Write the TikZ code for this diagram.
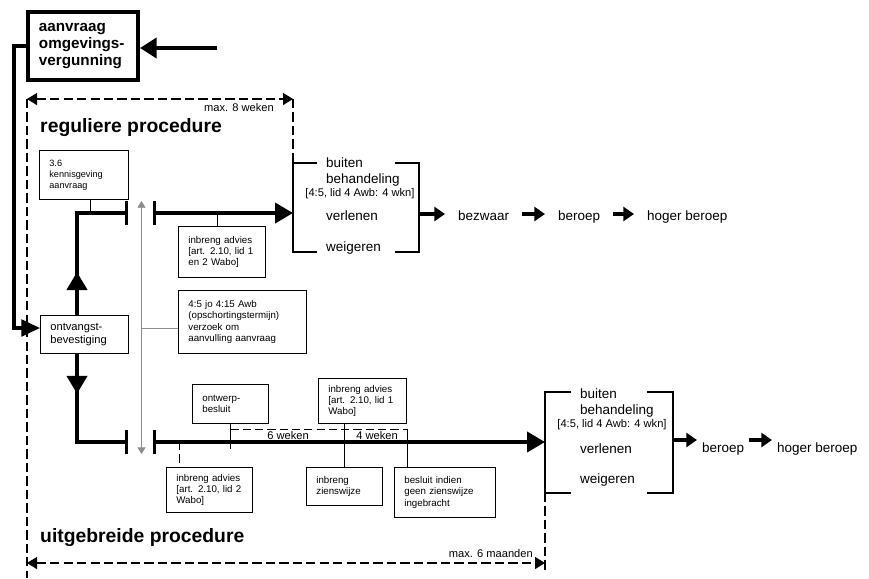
\documentclass[tikz,border=0pt]{standalone}
\usepackage{fontspec}
\setmainfont{Liberation Sans}
\usetikzlibrary{arrows.meta}
\begin{document}
\begin{tikzpicture}[x=0.03cm,y=-0.03cm]
	\tikzset{kader/.style = {draw,line width=0.7pt,anchor=north west,align=left,inner xsep=0.3cm,inner ysep=0pt,font=\fontsize{8.3}{9.6}\selectfont}}
	\tikzset{blok/.style = {anchor=north west,inner sep=0pt,outer sep=0pt}}
	\tikzset{haak/.style = {line width=1.7pt}}
	\tikzset{tekst/.style = {inner sep=0pt,align=left,font=\fontsize{11.5}{14.5}\selectfont}}
	\tikzset{stap/.style = {anchor=base west,inner xsep=0.39cm,inner ysep=0pt,font=\fontsize{11.5}{14.5}\selectfont}}
	\tikzset{klein/.style = {inner sep=0pt,font=\fontsize{9.5}{11}\selectfont}}
	\tikzset{titel/.style = {anchor=base west,inner sep=0pt,font=\fontsize{16.5}{19}\selectfont\bfseries}}
	\tikzset{hoofdlijn/.style = {line width=3.6pt}}
	\tikzset{kleinpijl/.style = {line width=2.6pt,-kleinekop}}
	\tikzset{grens/.style = {line width=1.2pt,dash pattern=on 8pt off 3.5pt}}
	\tikzset{streep/.style = {line width=0.8pt,dash pattern=on 7pt off 3.5pt}}
	\tikzset{dun/.style = {line width=0.7pt}}
	\tikzset{grijs/.style = {line width=0.7pt,black!45}}
	\tikzset{balk/.tip = {Bar[width=0.72cm,line width=2.6pt]}}
	\tikzset{grotekop/.tip = {Triangle[length=0.54cm,width=0.6cm]}}
	\tikzset{kleinekop/.tip = {Triangle[length=0.32cm,width=0.42cm]}}
	\tikzset{grenskop/.tip = {Triangle[length=0.3cm,width=0.36cm]}}
	\tikzset{grijskop/.tip = {Triangle[length=0.2cm,width=0.24cm]}}
	\useasboundingbox (0,0) rectangle (869,578);
	\node[kader,line width=3.4pt,inner xsep=0.33cm,font=\fontsize{13}{14.5}\selectfont\bfseries,text width=2.64cm,minimum height=2.04cm] (aanvraag) at (26,10) {aanvraag\\omgevings-\\vergunning};
	\node[kader,text width=2.07cm,minimum height=1.47cm,font=\fontsize{7.8}{9.3}\selectfont] (kennis) at (39,150) {3.6\\kennisgeving\\aanvraag};
	\node[kader,text width=2.04cm,minimum height=1.14cm,font=\fontsize{9.5}{11}\selectfont] (ontvangst) at (40,315) {ontvangst-\\bevestiging};
	\node[kader,text width=2.01cm,minimum height=1.53cm] (advies1) at (178,226) {inbreng advies\\{[art. 2.10, lid 1}\\en 2 Wabo]};
	\node[kader,text width=3.24cm,minimum height=1.89cm,font=\fontsize{8.3}{9.8}\selectfont] (opschorting) at (178,290) {4:5 jo 4:15 Awb\\(opschortingstermijn)\\verzoek om\\aanvulling aanvraag};
	\node[kader,text width=1.68cm,minimum height=1.17cm] (ontwerp) at (192,384) {ontwerp-\\besluit};
	\node[kader,text width=2.04cm,minimum height=1.35cm] (advies2) at (318,378) {inbreng advies\\{[art. 2.10, lid 1}\\Wabo]};
	\node[kader,text width=1.98cm,minimum height=1.35cm] (advies3) at (166,467) {inbreng advies\\{[art. 2.10, lid 2}\\Wabo]};
	\node[kader,text width=1.68cm,minimum height=1.14cm] (zienswijze) at (306,467) {inbreng\\zienswijze};
	\node[kader,text width=2.43cm,minimum height=1.5cm] (besluit) at (394,467) {besluit indien\\geen zienswijze\\ingebracht};
	\node[blok,minimum width=3.78cm,minimum height=2.67cm] (blokA) at (293,163) {};
	\node[blok,minimum width=3.84cm,minimum height=3.03cm] (blokB) at (545,392) {};
	\node[tekst,anchor=north west] (buitenA) at (326,157) {buiten\\behandeling};
	\node[klein,anchor=base] (termijnA) at (360,196) {[4:5, lid 4 Awb: 4 wkn]};
	\node[tekst,anchor=base west] (verlenenA) at (326,220) {verlenen};
	\node[tekst,anchor=base west] (weigerenA) at (326,251) {weigeren};
	\node[tekst,anchor=north west] (buitenB) at (580,388) {buiten\\behandeling};
	\node[klein,anchor=base] (termijnB) at (612,427) {[4:5, lid 4 Awb: 4 wkn]};
	\node[tekst,anchor=base west] (verlenenB) at (580,453) {verlenen};
	\node[tekst,anchor=base west] (weigerenB) at (580,483) {weigeren};
	\node[stap] (bezwaar) at (445,220) {bezwaar};
	\node[stap] (beroepA) at (545,220) {beroep};
	\node[stap] (hogerA) at (634,220) {hoger beroep};
	\node[stap,inner xsep=0.15cm] (beroepB) at (697,452) {beroep};
	\node[stap,inner xsep=0.15cm] (hogerB) at (772,452) {hoger beroep};
	\node[titel] (regulier) at (40,132) {reguliere procedure};
	\node[titel] (uitgebreid) at (40,542) {uitgebreide procedure};
	\node[klein,anchor=base east] (max8) at (274,111) {max. 8 weken};
	\node[klein,anchor=base east] (max6) at (533,557) {max. 6 maanden};
	\node[klein,anchor=base] (zes) at (288,439) {6 weken};
	\node[klein,anchor=base] (vier) at (377,439) {4 weken};
	\coordinate (invoer) at (217,48);
	\coordinate (knik) at (14,328);
	\coordinate (boven) at (77,213);
	\coordinate (onder) at (77,442);
	\coordinate (balkA1) at (128,213);
	\coordinate (balkA2) at (153,213);
	\coordinate (balkB1) at (128,442);
	\coordinate (balkB2) at (153,442);
	\coordinate (grijsboven) at (141.5,201);
	\coordinate (grijsonder) at (141.5,454);
	\coordinate (haakK) at (90,213);
	\coordinate (haakI) at (217,213);
	\coordinate (haakW) at (179,442);
	\coordinate (streepR) at (407,429);
	\coordinate (pijlA) at (0,214);
	\coordinate (pijlB) at (0,440);
	\coordinate (regL) at (27,99);
	\coordinate (regR) at (293,99);
	\coordinate (uitL) at (27,563);
	\coordinate (uitR) at (545,563);
	\coordinate (randL) at (27,578);
	\coordinate (randR) at (545,570);
	\draw[haak] ([xshift=0.72cm]blokA.north west) -- (blokA.north west) -- (blokA.south west) -- ([xshift=0.72cm]blokA.south west);
	\draw[haak] ([xshift=-0.72cm]blokA.north east) -- (blokA.north east) -- (blokA.south east) -- ([xshift=-0.72cm]blokA.south east);
	\draw[haak] ([xshift=0.78cm]blokB.north west) -- (blokB.north west) -- (blokB.south west) -- ([xshift=0.78cm]blokB.south west);
	\draw[haak] ([xshift=-0.78cm]blokB.north east) -- (blokB.north east) -- (blokB.south east) -- ([xshift=-0.78cm]blokB.south east);
	\draw[line width=3.4pt,-{Triangle[length=0.5cm,width=0.6cm]}] (invoer) -- (invoer -| aanvraag.east);
	\draw[line width=2.8pt,-{Triangle[length=0.56cm,width=0.5cm]}] (aanvraag.west) -| (knik) -- (knik -| ontvangst.west);
	\draw[dun] (kennis.south -| haakK) -- (haakK);
	\draw[dun] (haakI) -- (haakI |- advies1.north);
	\draw[dun] (ontwerp.south) -- ++(0,25);
	\draw[streep] (ontwerp.south |- streepR) -- (streepR);
	\draw[dun] (streepR) -- (streepR |- besluit.north);
	\draw[dun] (advies2.south -| zienswijze.north) -- (zienswijze.north);
	\draw[streep] (haakW) -- (haakW |- advies3.north);
	\draw[grijs,grijskop-grijskop] (grijsboven) -- (grijsonder);
	\draw[grijs] (grijsboven |- knik) -- (knik -| opschorting.west);
	\draw[hoofdlijn,-balk] (ontvangst.north -| boven) -- (boven) -- (balkA1);
	\draw[hoofdlijn,-grotekop] (ontvangst.north -| boven) -- ++(0,-43);
	\draw[hoofdlijn,balk-grotekop] (balkA2) -- (balkA2 -| blokA.west);
	\draw[hoofdlijn,-balk] (ontvangst.south -| onder) -- (onder) -- (balkB1);
	\draw[hoofdlijn,-grotekop] (ontvangst.south -| onder) -- ++(0,40);
	\draw[hoofdlijn,balk-grotekop] (balkB2) -- (balkB2 -| blokB.west);
	\draw[kleinpijl] (blokA.east |- pijlA) -- (bezwaar.west |- pijlA);
	\draw[kleinpijl] (bezwaar.east |- pijlA) -- (beroepA.west |- pijlA);
	\draw[kleinpijl] (beroepA.east |- pijlA) -- (hogerA.west |- pijlA);
	\draw[kleinpijl] (blokB.east |- pijlB) -- (beroepB.west |- pijlB);
	\draw[kleinpijl] (beroepB.east |- pijlB) -- (hogerB.west |- pijlB);
	\draw[grens,grenskop-grenskop] (regL) -- (regR);
	\draw[grens] (regL) -- (randL);
	\draw[grens] (regR) -- (blokA.north west);
	\draw[grens,grenskop-grenskop] (uitL) -- (uitR);
	\draw[grens] (blokB.south west) -- (randR);
\end{tikzpicture}
\end{document}
